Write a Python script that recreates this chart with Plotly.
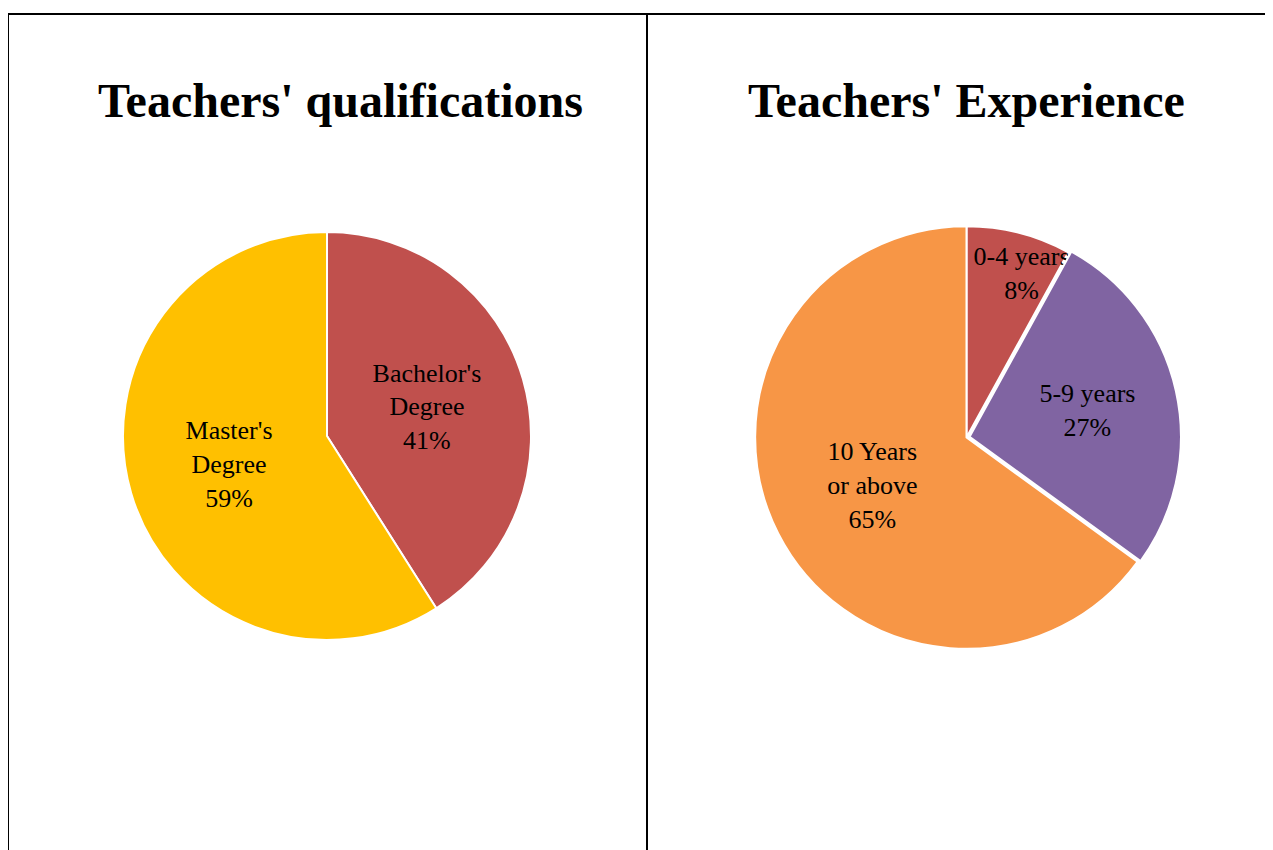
import plotly.graph_objects as go

# data
qual_labels = ["Bachelor's<br>Degree", "Master's<br>Degree"]
qual_values = [41, 59]
qual_colors = ["#C0504D", "#FFC000"]

exp_labels = ["0-4 years", "5-9 years", "10 Years<br>or above"]
exp_values = [8, 27, 65]
exp_colors = ["#C0504D", "#8064A2", "#F79646"]
exp_pull = [0, 0.015, 0]

titles = ["Teachers' qualifications", "Teachers' Experience"]

W, H = 1273, 850
OFF = 8  # page body margin
serif = "Liberation Serif, Times New Roman, serif"


def px(x):
    return (x - OFF) / W


def py(y):
    return 1 - (y - OFF) / H


tmpl = "%{label}<br>%{percent:.0%}"
pad = "&nbsp;" * 4
# the thin 0-4 slice: nudge its text right so it spills over the purple slice
exp_tmpl = [pad + "%{label}<br>" + pad + "%{percent:.0%}", tmpl, tmpl]

fig = go.Figure()

fig.add_trace(go.Pie(labels=qual_labels, values=qual_values,
                     marker=dict(colors=qual_colors, line=dict(color="white", width=2)),
                     sort=False, direction="clockwise", rotation=0,
                     texttemplate=tmpl,
                     textposition="inside", insidetextorientation="horizontal",
                     textfont=dict(family=serif, size=26, color="black"),
                     domain=dict(x=[px(123), px(531)], y=[py(640), py(232)]),
                     showlegend=False, hoverinfo="label+percent"))

fig.add_trace(go.Pie(labels=exp_labels, values=exp_values,
                     marker=dict(colors=exp_colors, line=dict(color="white", width=2)),
                     sort=False, direction="clockwise", rotation=0, pull=exp_pull,
                     texttemplate=exp_tmpl,
                     textposition="inside", insidetextorientation="horizontal",
                     textfont=dict(family=serif, size=26, color="black"),
                     domain=dict(x=[px(752), px(1181)], y=[py(652), py(223)]),
                     showlegend=False, hoverinfo="label+percent"))

# titles
for t, xc in zip(titles, [340, 966]):
    fig.add_annotation(text="<b>%s</b>" % t, x=px(xc), y=py(100),
                       xref="paper", yref="paper", showarrow=False,
                       xanchor="center", yanchor="middle",
                       font=dict(family=serif, size=48, color="black"))

# table borders
line = dict(color="black", width=2)
fig.add_shape(type="line", xref="paper", yref="paper",
              x0=px(8), x1=1.01, y0=py(14), y1=py(14), line=line)
for xb in [8, 647]:
    fig.add_shape(type="line", xref="paper", yref="paper",
                  x0=px(xb), x1=px(xb), y0=-0.01, y1=py(14), line=line)

fig.update_layout(width=W, height=H, margin=dict(l=0, r=0, t=0, b=0),
                  paper_bgcolor="white", plot_bgcolor="white",
                  uniformtext=dict(minsize=26, mode="show"))

fig.write_html("out.html")
